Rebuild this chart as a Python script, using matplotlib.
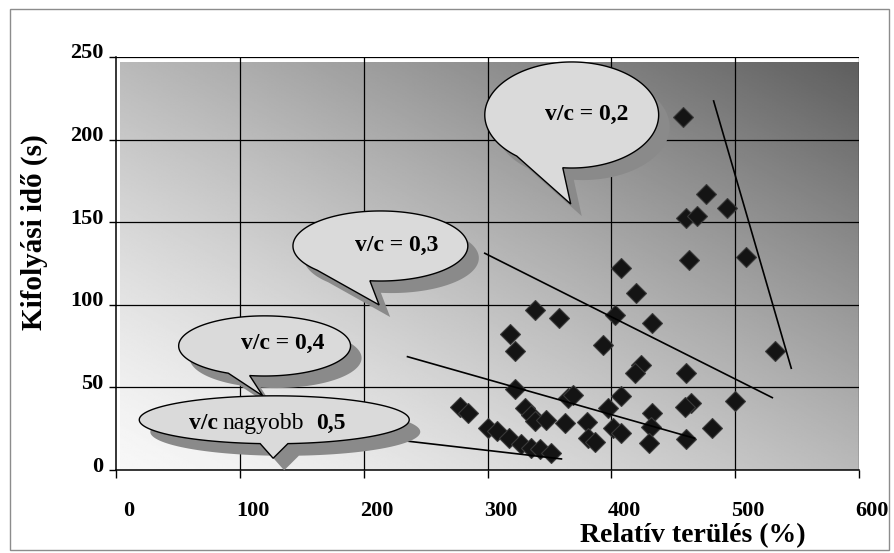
import matplotlib
matplotlib.use("Agg")
import matplotlib.pyplot as plt
import matplotlib.transforms as mtransforms
from matplotlib.patches import Polygon, Rectangle
import numpy as np

# ---------------- data ----------------
rel_area = [277.6, 284.4, 300.5, 307.8, 317.4, 327.4, 335.5, 342.2, 351.6, 322.0,
            330.0, 335.5, 338.0, 347.6, 362.4, 365.0, 369.0, 380.0, 381.0, 386.6,
            397.3, 401.4, 338.0, 357.5, 318.0, 322.0, 393.3, 402.7, 457.9, 476.7,
            493.6, 460.6, 469.2, 462.5, 509.0, 408.2, 420.2, 432.9, 531.9, 424.3,
            418.9, 460.6, 408.2, 500.2, 464.6, 459.8, 433.1, 432.4, 408.2, 481.3,
            460.6, 430.2]
outflow_time = [38.3, 34.3, 25.2, 23.8, 19.2, 15.5, 13.5, 12.7, 10.1, 48.8,
                37.3, 33.3, 29.8, 30.3, 28.6, 43.4, 45.4, 29.2, 19.2, 17.1,
                37.3, 25.2, 96.9, 91.8, 82.1, 72.0, 75.7, 93.8, 213.9, 166.9,
                158.8, 152.4, 153.8, 127.1, 129.1, 122.1, 107.0, 88.8, 72.2, 63.6,
                58.5, 58.5, 45.0, 41.8, 40.4, 38.3, 34.3, 26.2, 22.2, 25.2,
                18.6, 16.1]

# hand-drawn trend lines (x0, x1), (y0, y1)
line_02_x = [482.6, 545.3]; line_02_y = [223.4, 61.6]
line_03_x = [297.8, 530.0]; line_03_y = [131.2, 43.8]
line_04_x = [235.4, 467.3]; line_04_y = [68.6, 19.2]
line_05_x = [220.0, 359.7]; line_05_y = [18.8, 6.7]

x_ticks = [0, 100, 200, 300, 400, 500, 600]
y_ticks = [0, 50, 100, 150, 200, 250]

x_title = "Relatív terülés (%)"
y_title = "Kifolyási idő (s)"

SERIF = ["Liberation Serif", "DejaVu Serif"]
plt.rcParams["font.family"] = SERIF

# ---------------- figure ----------------
fig = plt.figure(figsize=(8.94, 5.53), dpi=100)
fig.patch.set_facecolor("white")
ax = fig.add_axes([116 / 894, 1 - 470 / 553, 743 / 894, 413 / 553])
ax.set_xlim(0, 600)
ax.set_ylim(0, 250)
ax.set_facecolor("white")

# diagonal gradient background (slightly inset like the original)
n = 300
gx, gy = np.meshgrid(np.linspace(0, 1, n), np.linspace(0, 1, n))
u = (gx + gy) / 2.0
shade = 0.97 - 0.60 * u ** 1.3
ax.imshow(shade, cmap="gray", vmin=0, vmax=1, origin="lower",
          extent=[4 / 743, 1, 0, 1 - 5 / 413], transform=ax.transAxes,
          aspect="auto", zorder=0, interpolation="bilinear")

# grid
for xv in x_ticks[1:]:
    ax.axvline(xv, color="black", lw=0.9, zorder=1)
for yv in y_ticks[1:]:
    ax.axhline(yv, color="black", lw=0.9, zorder=1)

for s in ["top", "right"]:
    ax.spines[s].set_visible(False)
for s in ["left", "bottom"]:
    ax.spines[s].set_color("black")
    ax.spines[s].set_linewidth(1.1)

ax.set_xticks(x_ticks)
ax.set_yticks(y_ticks)
ax.tick_params(axis="x", direction="out", length=6, width=1, pad=16, labelsize=16)
ax.tick_params(axis="y", direction="out", length=5, width=1, pad=4, labelsize=16)
for lab in ax.get_xticklabels():
    lab.set_fontweight("bold")
    lab.set_transform(lab.get_transform() + mtransforms.ScaledTranslation(13 / 100, 0, fig.dpi_scale_trans))
for lab in ax.get_yticklabels():
    lab.set_fontweight("bold")
    lab.set_transform(lab.get_transform() + mtransforms.ScaledTranslation(0, 6 / 100, fig.dpi_scale_trans))

# scatter
ax.plot(rel_area, outflow_time, linestyle="none", marker="D", markersize=10.5,
        markerfacecolor="#141414", markeredgecolor="#3a3a3a", markeredgewidth=0.8,
        zorder=3)

# trend lines
for lx, ly in [(line_02_x, line_02_y), (line_03_x, line_03_y),
               (line_04_x, line_04_y), (line_05_x, line_05_y)]:
    ax.plot(lx, ly, color="black", lw=1.2, zorder=3)

# speech bubbles
SHADOW = (8.9, -7.3)


def bubble(center, a, b, t_left, t_right, tip, z):
    ts = np.radians(np.linspace(t_right, t_left + 360, 400))
    xs = center[0] + a * np.cos(ts)
    ys = center[1] + b * np.sin(ts)
    pts = np.column_stack([np.r_[xs, tip[0]], np.r_[ys, tip[1]]])
    sh = Polygon(pts + np.array(SHADOW), closed=True, fc="#8a8a8a", ec="none",
                 zorder=z, clip_on=False)
    fc = Polygon(pts, closed=True, fc="#dadada", ec="black", lw=1.0,
                 zorder=z + 0.1, clip_on=False)
    ax.add_patch(sh)
    ax.add_patch(fc)


BFS = 17
bubble((368.0, 214.9), 70.2, 32.1, -129.2, -95.9, (367.2, 161.0), 5)
ax.text(380.2, 215.0, "v/c = 0,2", ha="center", va="center", fontsize=BFS,
        fontweight="bold", zorder=6)

bubble((213.5, 135.6), 70.6, 21.2, -136.5, -96.9, (212.5, 99.9), 5)
ax.text(226.8, 136.2, "v/c = 0,3", ha="center", va="center", fontsize=BFS,
        fontweight="bold", zorder=6)

bubble((120.0, 75.1), 69.4, 18.2, -115.0, -100.0, (118.6, 44.8), 5)
ax.text(134.4, 76.3, "v/c = 0,4", ha="center", va="center", fontsize=BFS,
        fontweight="bold", zorder=6)

bubble((127.8, 30.4), 109.0, 14.5, -96.0, -84.2, (126.9, 7.1), 7)
t1 = ax.text(59.0, 28.3, "v/c", ha="left", va="center", fontsize=BFS,
             fontweight="bold", zorder=8)
t2 = ax.annotate("nagyobb", xy=(1, 0), xycoords=t1, xytext=(3, 0),
                 textcoords="offset points", ha="left", va="bottom",
                 fontsize=BFS, zorder=8)
t3 = ax.annotate("0,5", xy=(1, 0), xycoords=t2, xytext=(9, 0),
                 textcoords="offset points", ha="left", va="bottom",
                 fontsize=BFS, fontweight="bold", zorder=8)

# axis titles
fig.text(693 / 894, 1 - 536 / 553, x_title, ha="center", va="center",
         fontsize=20, fontweight="bold")
fig.text(34 / 894, 1 - 232 / 553, y_title, ha="center", va="center",
         rotation=90, fontsize=21, fontweight="bold")

# outer frame
fig.patches.append(Rectangle((10 / 894, 3 / 553), 879 / 894, 541 / 553,
                             transform=fig.transFigure, fill=False,
                             ec="#8c8c8c", lw=1.0))

fig.savefig("out.png", dpi=100, facecolor="white")
